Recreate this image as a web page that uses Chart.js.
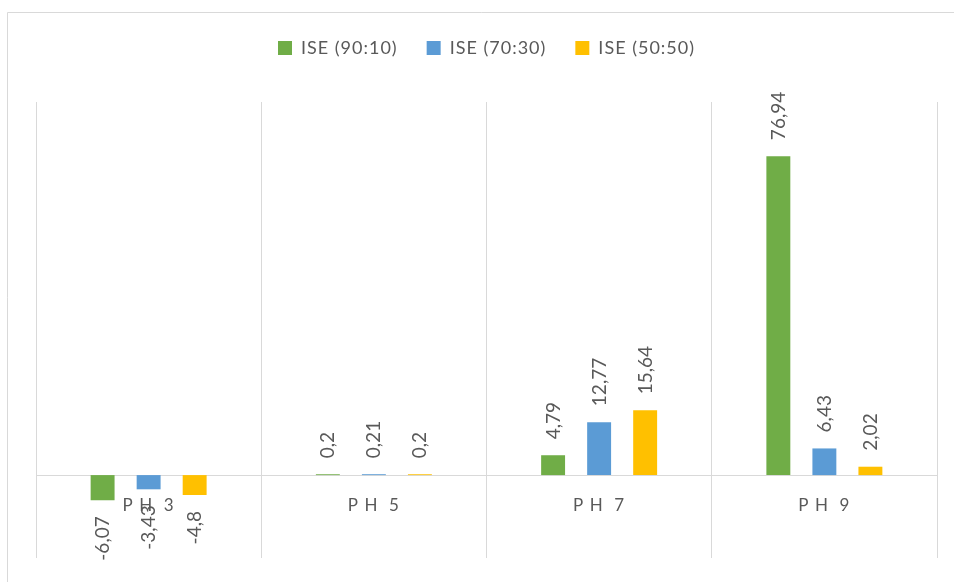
<!DOCTYPE html>
<html>
<head>
<meta charset="utf-8">
<script src="https://cdn.jsdelivr.net/npm/chart.js@4/dist/chart.umd.min.js"></script>
<style>
  html, body { margin: 0; padding: 0; background: #fff; }
  #wrap { width: 954px; height: 582px; position: relative; }
</style>
</head>
<body>
<div id="wrap"><canvas id="chart"></canvas></div>
<script>
const categories = ['P H  3', 'P H  5', 'P H  7', 'P H  9'];
const seriesNames = ['ISE (90:10)', 'ISE (70:30)', 'ISE (50:50)'];
const ise9010 = [-6.07, 0.2, 4.79, 76.94];
const ise7030 = [-3.43, 0.21, 12.77, 6.43];
const ise5050 = [-4.8, 0.2, 15.64, 2.02];

const colors = {
    green: '#70AD47',
    blue: '#5B9BD5',
    yellow: '#FFC000',
    text: '#595959',
    grid: '#D9D9D9'
};

const fontFamily = 'Lato, "Open Sans", sans-serif';

// slightly spaced text like the original, plus extra room under the legend
const spacing = {
    id: 'spacing',
    beforeLayout(chart) {
        chart.ctx.letterSpacing = '1px';
        const legend = chart.legend;
        if (legend && !legend._padded) {
            const fit = legend.fit;
            legend.fit = function() {
                fit.call(this);
                this.height += 35;
            };
            legend._padded = true;
        }
    },
    beforeDraw(chart) {
        chart.ctx.letterSpacing = '1px';
    }
};

// white background + chart frame (left and top edges visible)
const frame = {
    id: 'frame',
    beforeDraw(chart) {
        const ctx = chart.ctx;
        ctx.save();
        ctx.fillStyle = '#fff';
        ctx.fillRect(0, 0, chart.width, chart.height);
        ctx.strokeStyle = colors.grid;
        ctx.lineWidth = 1;
        ctx.beginPath();
        ctx.moveTo(7.5, chart.height + 5);
        ctx.lineTo(7.5, 12.5);
        ctx.lineTo(chart.width + 5, 12.5);
        ctx.stroke();
        ctx.restore();
    }
};

// rotated value labels outside the bar ends
const valueLabels = {
    id: 'valueLabels',
    afterDatasetsDraw(chart) {
        const ctx = chart.ctx;
        ctx.save();
        ctx.letterSpacing = '0px';
        ctx.font = '19px ' + fontFamily;
        ctx.fillStyle = colors.text;
        ctx.textBaseline = 'alphabetic';
        chart.data.datasets.forEach((ds, i) => {
            chart.getDatasetMeta(i).data.forEach((bar, j) => {
                const v = ds.data[j];
                const gap = 16;
                ctx.save();
                ctx.translate(bar.x, v < 0 ? bar.y + gap : bar.y - gap);
                ctx.rotate(-Math.PI / 2);
                ctx.textAlign = v < 0 ? 'right' : 'left';
                ctx.fillText(String(v).replace('.', ','), 0, 6.5);
                ctx.restore();
            });
        });
        ctx.restore();
    }
};

document.addEventListener('DOMContentLoaded', function() {
    new Chart(document.getElementById('chart'), {
        type: 'bar',
        data: {
            labels: categories,
            datasets: [
                { label: seriesNames[0], data: ise9010, backgroundColor: colors.green },
                { label: seriesNames[1], data: ise7030, backgroundColor: colors.blue },
                { label: seriesNames[2], data: ise5050, backgroundColor: colors.yellow }
            ]
        },
        options: {
            responsive: true,
            maintainAspectRatio: false,
            animation: false,
            categoryPercentage: 0.613,
            barPercentage: 0.52,
            layout: { padding: { left: 36, right: 17, top: 10, bottom: 24 } },
            plugins: {
                legend: {
                    position: 'top',
                    labels: {
                        boxWidth: 14,
                        boxHeight: 14,
                        padding: 29,
                        color: colors.text,
                        font: { family: fontFamily, size: 18 }
                    }
                },
                tooltip: { enabled: false }
            },
            scales: {
                x: {
                    position: { y: 0 },
                    afterFit(scale) { scale.height = 0; },
                    grid: { color: colors.grid, offset: true, drawTicks: false },
                    border: { color: colors.grid },
                    ticks: {
                        color: colors.text,
                        padding: 20,
                        font: { family: fontFamily, size: 17 }
                    }
                },
                y: {
                    display: false,
                    min: -20,
                    max: 90
                }
            }
        },
        plugins: [spacing, frame, valueLabels]
    });
});
</script>
</body>
</html>
